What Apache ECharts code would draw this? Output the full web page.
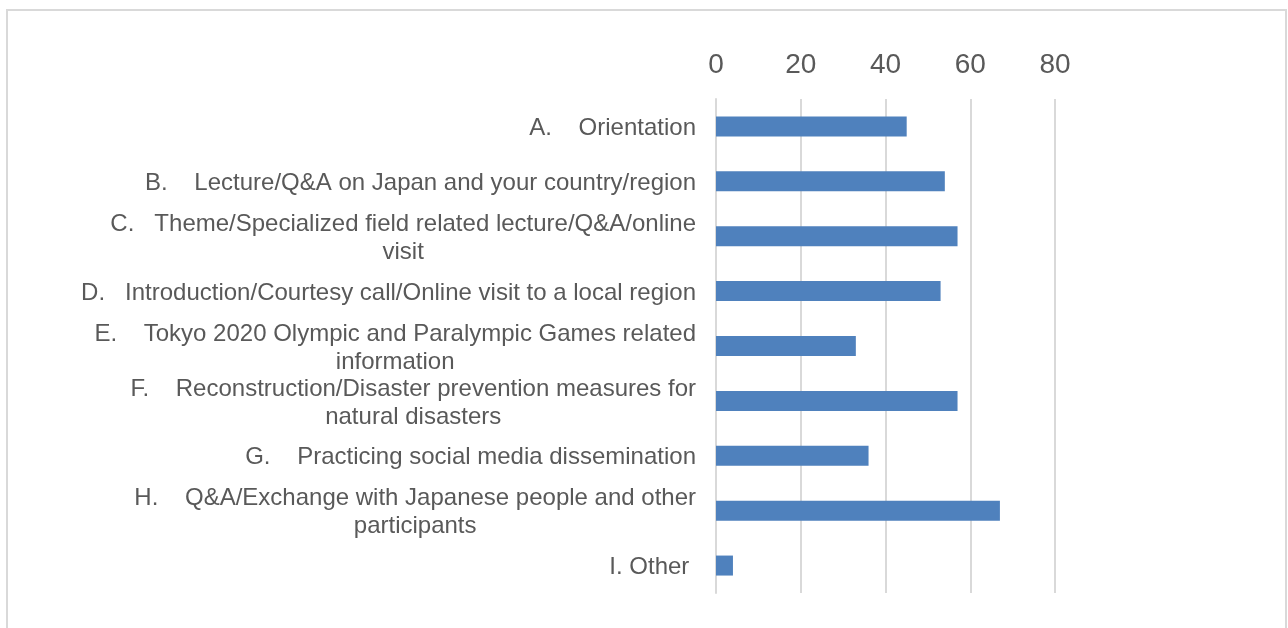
<!DOCTYPE html>
<html>
<head>
<meta charset="utf-8">
<script src="https://cdn.jsdelivr.net/npm/echarts@6/dist/echarts.min.js"></script>
<style>
  html, body { margin: 0; padding: 0; background: #fff; }
  #chart { position: absolute; left: 0; top: 0; width: 1288px; height: 628px; }
  #frame { position: absolute; left: 6px; top: 9px; width: 1281px; height: 640px; border: 2px solid #d9d9d9; box-sizing: border-box; pointer-events: none; }
</style>
</head>
<body>
<div id="chart"></div>
<div id="frame"></div>
<script>
const categories = [
  "A.    Orientation",
  "B.    Lecture/Q&A on Japan and your country/region",
  "C.   Theme/Specialized field related lecture/Q&A/online\nvisit",
  "D.   Introduction/Courtesy call/Online visit to a local region",
  "E.    Tokyo 2020 Olympic and Paralympic Games related\ninformation",
  "F.    Reconstruction/Disaster prevention measures for\nnatural disasters",
  "G.    Practicing social media dissemination",
  "H.    Q&A/Exchange with Japanese people and other\nparticipants",
  "I. Other "
];
const values = [45, 54, 57, 53, 33, 57, 36, 67, 4];
const axisMin = 0;
const axisMax = 80;
const axisStep = 20;

const chart = echarts.init(document.getElementById('chart'), null, { renderer: 'canvas' });
chart.setOption({
  animation: false,
  backgroundColor: '#ffffff',
  textStyle: { fontFamily: 'Liberation Sans, Arial, sans-serif' },
  grid: { left: 716, right: 233, top: 99, bottom: 35, containLabel: false, outerBoundsMode: 'none' },
  xAxis: {
    type: 'value',
    position: 'top',
    min: axisMin,
    max: axisMax,
    interval: axisStep,
    axisLine: { show: false },
    axisTick: { show: false },
    axisLabel: { fontSize: 28, color: '#595959', margin: 20 },
    splitLine: { show: true, lineStyle: { color: '#d9d9d9', width: 2 } }
  },
  yAxis: {
    type: 'category',
    inverse: true,
    data: categories,
    axisLine: { show: true, lineStyle: { color: '#d9d9d9', width: 2 } },
    axisTick: { show: false },
    axisLabel: {
      margin: 20,
      align: 'right',
      fontSize: 24,
      color: '#595959',
      lineHeight: 28,
      padding: [4, 0, 0, 0],
      formatter: function (v) { return '{c|' + v + '}'; },
      rich: { c: { align: 'center', fontSize: 24, color: '#595959', lineHeight: 28 } }
    }
  },
  series: [{
    type: 'bar',
    data: values,
    barWidth: 20,
    itemStyle: { color: '#4f81bd' }
  }]
});
</script>
</body>
</html>
